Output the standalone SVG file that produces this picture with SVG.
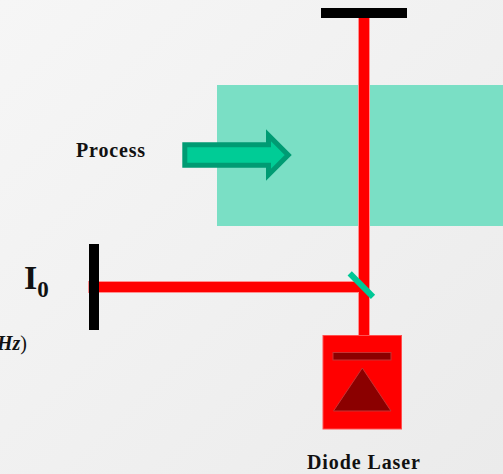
<svg xmlns="http://www.w3.org/2000/svg" width="503" height="474" viewBox="0 0 503 474">
<defs>
<linearGradient id="bg" x1="0" y1="0" x2="1" y2="1"><stop offset="0" stop-color="#f6f6f6"/><stop offset="1" stop-color="#ebebeb"/></linearGradient>
</defs>
<style>
.t{font-family:"Liberation Serif","Times New Roman",serif;font-weight:bold;fill:#111}
.halo{fill:#ff9090}
.beam{fill:#ff0000}
.dark{fill:#8b0000;stroke:#c83232;stroke-width:1}
</style>
<rect width="503" height="474" fill="url(#bg)"/>
<rect id="chamber" x="217" y="85" width="286" height="141" fill="#7adfc5"/>
<g id="connectors">
<rect class="halo" x="358" y="18" width="12" height="318"/>
<rect class="halo" x="88" y="281" width="271" height="12"/>
<rect class="beam" x="359" y="18" width="10" height="318"/>
<rect class="beam" x="89" y="282" width="275" height="10"/>
</g>
<g id="top-mirror"><rect x="321" y="8" width="86" height="10" fill="#000"/></g>
<g id="i0-mirror"><rect x="89" y="244" width="10" height="86" fill="#000"/></g>
<g id="beam-splitter"><line x1="349.700" y1="273.300" x2="373" y2="296.800" stroke="#00c896" stroke-width="6"/></g>
<g id="process-arrow">
<polygon points="184.800,144.800 268.500,144.800 268.500,135.300 288.200,155 268.500,174.700 268.500,165.200 184.800,165.200" fill="#00cc96" stroke="#009b73" stroke-width="5"/>
<text class="t" x="76" y="157" font-size="20" letter-spacing="0.85">Process</text>
</g>
<g id="i0-label">
<text class="t" x="24" y="289" font-size="34">I<tspan font-size="23" dy="8">0</tspan></text>
</g>
<g id="clipped-label">
<text class="t" x="27" y="350" font-size="20" text-anchor="end"><tspan font-style="italic">Hz</tspan><tspan font-weight="normal">)</tspan></text>
</g>
<g id="diode-laser">
<rect x="323" y="335.500" width="78.500" height="93.500" fill="#ff0000" stroke="#ff5050" stroke-width="1"/>
<rect class="dark" x="333" y="352.500" width="58" height="7.500"/>
<polygon class="dark" points="362.300,368 391,411 333.500,411"/>
<text class="t" x="307" y="469" font-size="20" letter-spacing="0.9">Diode Laser</text>
</g>
</svg>
